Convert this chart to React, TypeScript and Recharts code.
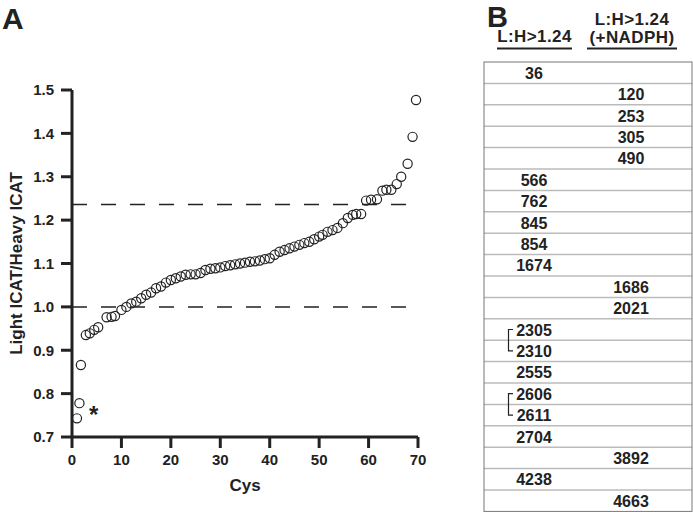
import React from "react";
import {
  ScatterChart,
  Scatter,
  XAxis,
  YAxis,
  ReferenceLine,
  ReferenceDot,
} from "recharts";

// rank of each cysteine along the x axis
const cysRank = [
  1, 1.5, 1.8, 2.8, 3.6, 4.5, 5.3, 7, 8, 8.7,
  10, 11, 12, 13, 14, 15, 16, 17, 18, 19,
  20, 21, 22, 23, 24, 25, 26, 27, 28, 29,
  30, 31, 32, 33, 34, 35, 36, 37, 38, 39,
  40, 41, 42, 43, 44, 45, 46, 47, 48, 49,
  50, 50.7, 51.7, 52.7, 53.7, 54.8, 55.8, 56.8, 57.5, 58.5,
  59.5, 60.5, 61.7, 62.8, 63.6, 64.6, 65.7, 66.6, 67.9, 68.9, 69.6,
];

// light/heavy ICAT ratio
const lightHeavyRatio = [
  0.743, 0.778, 0.866, 0.935, 0.939, 0.947, 0.953, 0.976, 0.977, 0.979,
  0.993, 1.0, 1.008, 1.012, 1.02, 1.028, 1.033, 1.043, 1.047, 1.056,
  1.062, 1.066, 1.07, 1.074, 1.075, 1.075, 1.078, 1.085, 1.088, 1.089,
  1.091, 1.094, 1.096, 1.098, 1.1, 1.102, 1.104, 1.105, 1.107, 1.11,
  1.112, 1.12, 1.127, 1.131, 1.135, 1.139, 1.143, 1.147, 1.15, 1.156,
  1.162, 1.166, 1.173, 1.177, 1.182, 1.193, 1.205, 1.212, 1.214, 1.214,
  1.245, 1.247, 1.248, 1.268, 1.27, 1.27, 1.283, 1.3, 1.33, 1.392, 1.477,
];

const xTicks = [0, 10, 20, 30, 40, 50, 60, 70];
const yTicks = [0.7, 0.8, 0.9, 1.0, 1.1, 1.2, 1.3, 1.4, 1.5];
const thresholds = [1.236, 1.0];

// panel B: residues above threshold, per condition
const leftColumn = [
  "36", "", "", "", "", "566", "762", "845", "854", "1674", "", "",
  "2305", "2310", "2555", "2606", "2611", "2704", "", "4238", "",
];
const rightColumn = [
  "", "120", "253", "305", "490", "", "", "", "", "", "1686", "2021",
  "", "", "", "", "", "", "3892", "", "4663",
];
const bracketPairs = [[12, 13], [15, 16]];

const data = cysRank.map((x, i) => ({ x, y: lightHeavyRatio[i] }));

const font = "'Liberation Sans', Arial, Helvetica, sans-serif";
const ink = "#222";

const Ring = (props: any) => (
  <circle cx={props.cx} cy={props.cy} r={4.6} fill="none" stroke={ink} strokeWidth={1.2} />
);

function Table() {
  const top = 62;
  const rowH = 21.4;
  const left = 484;
  const right = 692;
  const rows = leftColumn.length;
  return (
    <svg width={693} height={512} style={{ position: "absolute", left: 0, top: 0 }}>
      <g fontFamily={font} fontWeight="bold" fill={ink}>
        <text x={2} y={29} fontSize={30}>A</text>
        <text x={487} y={27} fontSize={29}>B</text>
        <text x={534.5} y={42} fontSize={17} letterSpacing={0.4} textAnchor="middle">L:H&gt;1.24</text>
        <text x={632} y={25} fontSize={17} letterSpacing={0.4} textAnchor="middle">L:H&gt;1.24</text>
        <text x={632} y={43} fontSize={17} letterSpacing={0.4} textAnchor="middle">(+NADPH)</text>
      </g>
      <line x1={497} x2={572} y1={48.5} y2={48.5} stroke={ink} strokeWidth={2} />
      <line x1={587} x2={677} y1={48.5} y2={48.5} stroke={ink} strokeWidth={2} />
      {leftColumn.slice(1).map((_, i) => (
        <line
          key={i}
          x1={left}
          x2={right}
          y1={top + (i + 1) * rowH}
          y2={top + (i + 1) * rowH}
          stroke="#bbb"
          strokeWidth={1.5}
        />
      ))}
      <rect x={left} y={top} width={right - left} height={rows * rowH} fill="none" stroke="#777" strokeWidth={1} />
      <g fontFamily={font} fontWeight="bold" fontSize={16} fill={ink} textAnchor="middle">
        {leftColumn.map((t, i) => (
          <text key={"l" + i} x={534} y={top + i * rowH + rowH / 2 + 6}>{t}</text>
        ))}
        {rightColumn.map((t, i) => (
          <text key={"r" + i} x={631} y={top + i * rowH + rowH / 2 + 6}>{t}</text>
        ))}
      </g>
      {bracketPairs.map(([a, b]) => {
        const y1 = top + a * rowH + rowH / 2;
        const y2 = top + b * rowH + rowH / 2;
        return (
          <path
            key={a}
            d={`M513 ${y1} H508.5 V${y2} H513`}
            fill="none"
            stroke={ink}
            strokeWidth={1.2}
          />
        );
      })}
    </svg>
  );
}

export default function App() {
  const tickStyle = { fontSize: 15, fontWeight: "bold", fill: ink, fontFamily: font };
  return (
    <div style={{ position: "absolute", left: 0, top: 0, width: 693, height: 512, background: "#fff" }}>
      <ScatterChart width={480} height={512} margin={{ top: 90, right: 62, left: 0, bottom: 15 }}>
        <XAxis
          type="number"
          dataKey="x"
          domain={[0, 70]}
          ticks={xTicks}
          height={60}
          tickSize={11}
          tickMargin={6}
          axisLine={{ stroke: ink, strokeWidth: 3 }}
          tickLine={{ stroke: ink, strokeWidth: 3 }}
          tick={tickStyle}
          label={{ value: "Cys", position: "insideBottom", offset: 6, style: { ...tickStyle, fontSize: 17 } }}
        />
        <YAxis
          type="number"
          dataKey="y"
          domain={[0.7, 1.5]}
          ticks={yTicks}
          width={72}
          tickSize={11}
          tickMargin={7}
          axisLine={{ stroke: ink, strokeWidth: 3 }}
          tickLine={{ stroke: ink, strokeWidth: 3 }}
          tick={tickStyle}
          tickFormatter={(v: number) => v.toFixed(1)}
          label={{
            value: "Light ICAT/Heavy ICAT",
            angle: -90,
            position: "insideLeft",
            offset: 16,
            style: { ...tickStyle, fontSize: 17, textAnchor: "middle" },
          }}
        />
        {thresholds.map((t) => (
          <ReferenceLine key={t} y={t} stroke={ink} strokeWidth={1.5} strokeDasharray="15 14" />
        ))}
        <Scatter data={data} shape={Ring} isAnimationActive={false} />
        <ReferenceDot
          x={4.4}
          y={0.752}
          r={0}
          stroke="none"
          label={{ value: "*", position: "center", style: { fontSize: 24, fontWeight: "bold", fill: ink, fontFamily: font } }}
        />
      </ScatterChart>
      <Table />
    </div>
  );
}
